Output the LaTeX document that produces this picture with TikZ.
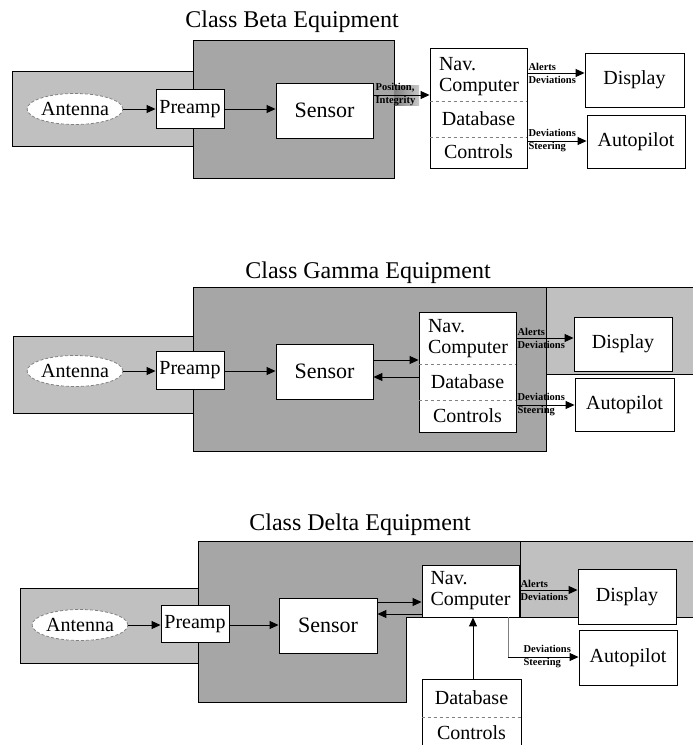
\documentclass[tikz,border=0pt]{standalone}
\usepackage{fontspec}
\setmainfont{Liberation Serif}
\usetikzlibrary{arrows.meta,shapes.geometric,calc}
\definecolor{lgray}{RGB}{192,192,192}
\definecolor{dgray}{RGB}{166,166,166}
\begin{document}
\begin{tikzpicture}[x=1pt,y=-1pt,
  region/.style={draw=black, line width=0.8pt},
  light/.style={region, fill=lgray},
  dark/.style={region, fill=dgray},
  txt/.style={inner sep=0pt, font=\fontsize{20}{21}\selectfont},
  box/.style={txt, draw=black, fill=white, line width=0.9pt},
  big/.style={font=\fontsize{22}{24}\selectfont},
  ant/.style={ellipse, draw=gray, densely dashed, fill=white, line width=0.8pt, inner sep=0pt, minimum width=90pt, minimum height=31pt, font=\fontsize{20}{21}\selectfont},
  arr/.style={-{Triangle[length=9pt,width=8pt]}, line width=1pt},
  lbl/.style={font=\fontsize{10.5}{13}\selectfont\bfseries, align=left, anchor=west, inner sep=0pt},
  ttl/.style={font=\fontsize{24}{26}\selectfont},
  sep/.style={dashed, line width=0.6pt, gray}
]
\clip (0,0) rectangle (693,745);
\fill[white] (0,0) rectangle (693,745);

% ---------------- Beta ----------------
\draw[light] (12,71) rectangle (193,146);
\draw[dark] (193,40) rectangle (394,178);
\shade[left color={rgb,255:red,130;green,130;blue,130}, right color={rgb,255:red,200;green,200;blue,200}] (394.5,85) rectangle (419,105);
\node[ttl] (btitle) at (292,22) {Class Beta Equipment};
\node[ant] (bant) at (75,109) {Antenna};
\node[box, minimum width=68pt, minimum height=39pt] (bpre) at (190,109) {Preamp};
\node[box, big, minimum width=97pt, minimum height=55pt] (bsen) at (324.5,110.5) {Sensor};
\node[box, minimum width=97pt, minimum height=120pt] (bnav) at (478.5,108) {};
\node[txt, align=left] (bnavt) at (479,77) {Nav.\\Computer};
\node[txt] (bdb) at (478.5,119) {Database};
\node[txt] (bctl) at (478.5,152) {Controls};
\draw[sep] (bnav.west |- 0,101) -- (bnav.east |- 0,101);
\draw[sep] (bnav.west |- 0,137) -- (bnav.east |- 0,137);
\node[box, minimum width=99pt, minimum height=54pt] (bdisp) at (634.5,80) {Display};
\node[box, minimum width=98pt, minimum height=53pt] (bauto) at (636,141.5) {Autopilot};
\coordinate (bpos) at (0,95);
\coordinate (balt) at (0,73);
\coordinate (bstr) at (0,141);
\draw[arr] (bant) -- (bpre);
\draw[arr] (bpre.east) -- (bsen.west |- bpre.east);
\draw[arr] (bsen.east |- bpos) -- (bnav.west |- bpos);
\node[lbl] (bposl) at ([xshift=2pt]bsen.east |- bpos) {Position,\\Integrity};
\draw[arr] (bnav.east |- balt) -- (bdisp.west |- balt);
\node[lbl] (baltl) at ([xshift=1pt]bnav.east |- balt) {Alerts\\Deviations};
\draw[arr] (bnav.east |- bstr) -- (bauto.west |- bstr);
\node[lbl] (bstrl) at ([xshift=1pt]bnav.east |- bstr) {Deviations\\Steering};

% ---------------- Gamma ----------------
\draw[light] (13,336) rectangle (193,413);
\draw[light] (546,287) rectangle (700,374);
\draw[dark] (193,287) rectangle (546,451);
\node[ttl] (gtitle) at (368,273) {Class Gamma Equipment};
\node[ant] (gant) at (75,371) {Antenna};
\node[box, minimum width=68pt, minimum height=38pt] (gpre) at (190,370) {Preamp};
\node[box, big, minimum width=97pt, minimum height=55pt] (gsen) at (324.5,371.5) {Sensor};
\node[box, minimum width=97pt, minimum height=120pt] (gnav) at (467.5,372) {};
\node[txt, align=left] (gnavt) at (468,339) {Nav.\\Computer};
\node[txt] (gdb) at (467.5,382) {Database};
\node[txt] (gctl) at (467.5,416) {Controls};
\draw[sep] (gnav.west |- 0,364) -- (gnav.east |- 0,364);
\draw[sep] (gnav.west |- 0,400) -- (gnav.east |- 0,400);
\node[box, minimum width=98pt, minimum height=54pt] (gdisp) at (623,344) {Display};
\node[box, minimum width=99pt, minimum height=53pt] (gauto) at (624.5,404.5) {Autopilot};
\coordinate (gfwd) at (0,360);
\coordinate (gback) at (0,377);
\coordinate (galt) at (0,338);
\coordinate (gstr) at (0,405);
\draw[arr] (gant) -- (gpre.west |- gant);
\draw[arr] (gpre.east |- gant) -- (gsen.west |- gant);
\draw[arr] (gsen.east |- gfwd) -- (gnav.west |- gfwd);
\draw[arr] (gnav.west |- gback) -- (gsen.east |- gback);
\draw[arr] (gnav.east |- galt) -- (gdisp.west |- galt);
\node[lbl] (galtl) at ([xshift=1pt]gnav.east |- galt) {Alerts\\Deviations};
\draw[arr] (gnav.east |- gstr) -- (gauto.west |- gstr);
\node[lbl] (gstrl) at ([xshift=1pt]gnav.east |- gstr) {Deviations\\Steering};

% ---------------- Delta ----------------
\draw[light] (20,588) rectangle (198,663);
\draw[light] (520,541) rectangle (700,617);
\draw[dark] (198,541) -- (520,541) -- (520,617) -- (406,617) -- (406,702) -- (198,702) -- cycle;
\node[ttl] (dtitle) at (360,525) {Class Delta Equipment};
\node[ant] (dant) at (80,625) {Antenna};
\node[box, minimum width=68pt, minimum height=37pt] (dpre) at (195,624) {Preamp};
\node[box, big, minimum width=98pt, minimum height=55pt] (dsen) at (328,625.5) {Sensor};
\node[box, align=left, minimum width=97pt, minimum height=52pt] (dnav) at (470.5,591) {Nav.\\Computer};
\node[box, minimum width=98pt, minimum height=55pt] (ddisp) at (627,596.5) {Display};
\node[box, minimum width=98pt, minimum height=55pt] (dauto) at (628,657.5) {Autopilot};
\node[box, minimum width=99pt, minimum height=80pt] (ddbc) at (471.5,719) {};
\node[txt] (ddb) at (471.5,698) {Database};
\node[txt] (dctl) at (471.5,733) {Controls};
\draw[sep] (ddbc.west |- 0,717) -- (ddbc.east |- 0,717);
\coordinate (dfwd) at (0,602);
\coordinate (dback) at (0,614);
\coordinate (dalt) at (0,590);
\coordinate (dcol) at (473,0);
\coordinate (dturn) at (508,657);
\draw[arr] (dant) -- (dpre.west |- dant);
\draw[arr] (dpre.east |- dant) -- (dsen.west |- dant);
\draw[arr] (dsen.east |- dfwd) -- (dnav.west |- dfwd);
\draw[arr] (dnav.west |- dback) -- (dsen.east |- dback);
\draw[arr] (ddbc.north -| dcol) -- (dnav.south -| dcol);
\draw[arr] (dnav.east |- dalt) -- (ddisp.west |- dalt);
\node[lbl] (daltl) at ([xshift=1pt]dnav.east |- dalt) {Alerts\\Deviations};
\draw[line width=1pt, gray] (dnav.south -| dturn) -- (dturn);
\draw[arr] (dturn) -- (dauto.west |- dturn);
\node[lbl] (dstrl) at ([xshift=4pt]dnav.east |- dturn) {Deviations\\Steering};
\end{tikzpicture}
\end{document}
